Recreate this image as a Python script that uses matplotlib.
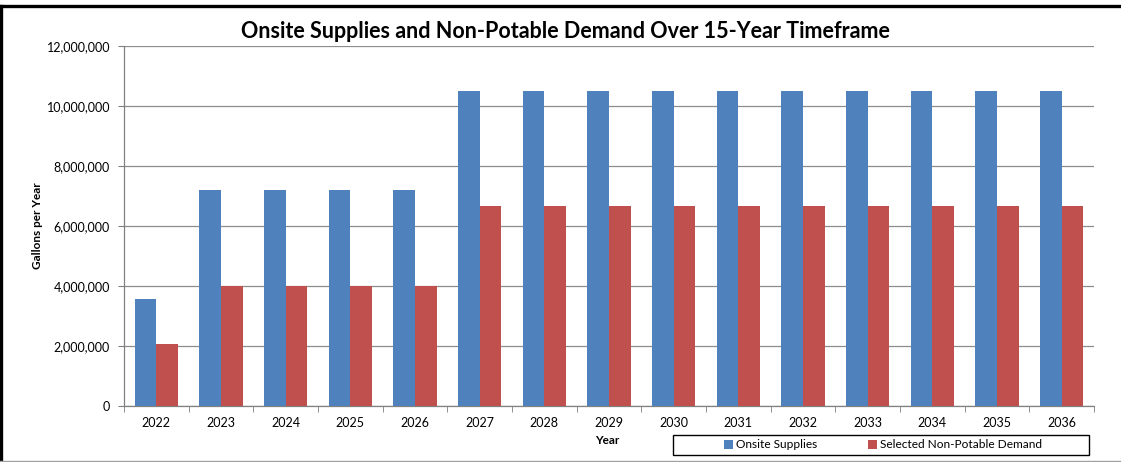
import matplotlib
matplotlib.use("Agg")
import matplotlib.pyplot as plt
from matplotlib.lines import Line2D
from matplotlib.patches import Rectangle
from matplotlib.ticker import FuncFormatter, FixedLocator
import numpy as np

years = ["2022", "2023", "2024", "2025", "2026", "2027", "2028", "2029",
         "2030", "2031", "2032", "2033", "2034", "2035", "2036"]
onsite_supplies = [3570000, 7200000, 7200000, 7200000, 7200000,
                   10500000, 10500000, 10500000, 10500000, 10500000,
                   10500000, 10500000, 10500000, 10500000, 10500000]
non_potable_demand = [2070000, 4000000, 4000000, 4000000, 4000000,
                      6670000, 6670000, 6670000, 6670000, 6670000,
                      6670000, 6670000, 6670000, 6670000, 6670000]

plt.rcParams['font.family'] = ['Lato', 'DejaVu Sans']

fig = plt.figure(figsize=(11.21, 4.62), dpi=100)
ax = fig.add_axes([124/1121, 56/462, (1094-124)/1121, (406-46)/462])

x = np.arange(len(years))
w = 1/3
ax.bar(x - w/2, onsite_supplies, w, color="#4F81BD", label="Onsite Supplies", zorder=3)
ax.bar(x + w/2, non_potable_demand, w, color="#C0504D", label="Selected Non-Potable Demand", zorder=3)

ax.set_xlim(-0.5, len(years) - 0.5)
ax.set_ylim(0, 12000000)
ax.set_yticks(np.arange(0, 12000001, 2000000))
ax.yaxis.set_major_formatter(FuncFormatter(lambda v, p: f"{int(v):,}"))
ax.set_xticks(x)
ax.set_xticklabels(years)
ax.xaxis.set_minor_locator(FixedLocator(np.arange(-0.5, len(years), 1)))
ax.tick_params(axis='x', which='major', length=0, pad=8, labelsize=9)
ax.tick_params(axis='x', which='minor', length=4, color="#808080", direction='out')
ax.tick_params(axis='y', length=4, color="#808080", direction='out', labelsize=9, pad=6)

ax.grid(axis='y', color="#8c8c8c", linewidth=0.9, zorder=0)
for s in ['top', 'right']:
    ax.spines[s].set_visible(False)
for s in ['left', 'bottom']:
    ax.spines[s].set_color("#808080")
    ax.spines[s].set_linewidth(0.9)

ax.set_ylabel("Gallons per Year", fontsize=8.5, fontweight='bold')
ax.yaxis.set_label_coords(-0.083, 0.5)
fig.text(607/1121, 1 - 441/462, "Year", fontsize=8.5, fontweight='bold', ha='center', va='center')
fig.text(565/1121, 1 - 32/462, "Onsite Supplies and Non-Potable Demand Over 15-Year Timeframe",
         fontsize=15.5, fontweight='bold', ha='center', va='center')

# legend box frame
fig.add_artist(Rectangle((673/1121, 1 - 455/462), (1089-673)/1121, 20/462,
                         transform=fig.transFigure, fill=False,
                         edgecolor="black", linewidth=1.0))
leg = fig.legend(loc='center', bbox_to_anchor=(883/1121, 1 - 445/462),
                 ncol=2, frameon=False, fontsize=8.6,
                 handlelength=0.75, handleheight=0.75, handletextpad=0.3,
                 columnspacing=4.2, borderpad=0.2, borderaxespad=0)

# figure border: thick black top and left, thin gray bottom
fig.add_artist(Line2D([0, 1], [1 - 6/462, 1 - 6/462], transform=fig.transFigure,
                      color="black", linewidth=2.4))
fig.add_artist(Line2D([1/1121, 1/1121], [1 - 6/462, 0.004], transform=fig.transFigure,
                      color="black", linewidth=2.4))
fig.add_artist(Line2D([0, 1], [1.5/462, 1.5/462], transform=fig.transFigure,
                      color="#a0a0a0", linewidth=1.0))

fig.savefig("out.png", dpi=100)
